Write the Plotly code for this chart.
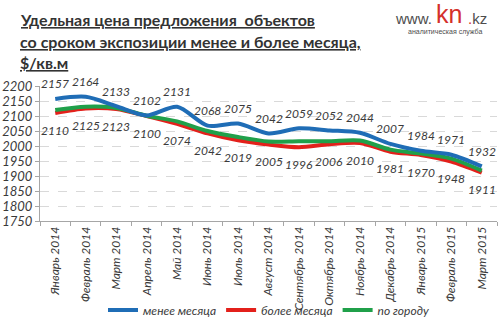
import plotly.graph_objects as go

months = ["Январь 2014", "Февраль 2014", "Март 2014", "Апрель 2014", "Май 2014",
          "Июнь 2014", "Июль 2014", "Август 2014", "Сентябрь 2014", "Октябрь 2014",
          "Ноябрь 2014", "Декабрь 2014", "Январь 2015", "Февраль 2015", "Март 2015"]
less_month = [2157, 2164, 2133, 2102, 2131, 2068, 2075, 2042, 2059, 2052, 2044, 2007, 1984, 1971, 1932]
more_month = [2110, 2125, 2123, 2100, 2074, 2042, 2019, 2005, 1996, 2006, 2010, 1981, 1970, 1948, 1911]
city = [2120, 2131, 2127, 2101, 2082, 2050, 2030, 2015, 2016, 2016, 2018, 1988, 1975, 1958, 1918]
y_ticks = [1750, 1800, 1850, 1900, 1950, 2000, 2050, 2100, 2150, 2200]

BLUE = "#1F6DB6"
RED = "#E3201B"
GREEN = "#20A04A"
FONT = "Lato"
TXT = "#3a3a3a"

W, H = 499, 327
l, r, t, b = 40, 2, 86, 100
pw, ph = W - l - r, H - t - b


def pp(px, py):
    return (px - l) / pw, (H - b - py) / ph


fig = go.Figure()
# draw order: red, green, blue (blue on top); legend order via legendrank
for name, vals, col, rank in [("более месяца", more_month, RED, 2),
                              ("по городу", city, GREEN, 3),
                              ("менее месяца", less_month, BLUE, 1)]:
    fig.add_trace(go.Scatter(x=months, y=vals, name=name, mode="lines", legendrank=rank,
                             line=dict(color=col, width=4, shape="spline", smoothing=0.8)))

annotations = []
lab_font = dict(family=FONT, size=12, color=TXT, style="italic")
for m, v in zip(months, less_month):
    annotations.append(dict(x=m, y=v, xref="x", yref="y", text=str(v), showarrow=False,
                            yshift=15, font=lab_font))
for m, v in zip(months, more_month):
    annotations.append(dict(x=m, y=v, xref="x", yref="y", text=str(v), showarrow=False,
                            yshift=-17, font=lab_font))

title_lines = ["Удельная цена предложения  объектов",
               "со сроком экспозиции менее и более месяца,",
               "$/кв.м"]
for i, tl in enumerate(title_lines):
    x, y = pp(18, 17 + 22 * i)
    annotations.append(dict(x=x, y=y, xref="paper", yref="paper",
                            text=f'<b><span style="text-decoration:underline">{tl}</span></b>',
                            showarrow=False, xanchor="left", yanchor="middle",
                            font=dict(family=FONT, size=16, color="#333333")))

# logo
x0, y0 = pp(434, 15)
annotations.append(dict(x=x0, y=y0, xref="paper", yref="paper", text="www.", showarrow=False,
                        xanchor="right", yanchor="middle",
                        font=dict(family="Liberation Sans", size=15, color="#4d4d4d")))
x1, y1 = pp(435, 11)
annotations.append(dict(x=x1, y=y1, xref="paper", yref="paper", text="kn", showarrow=False,
                        xanchor="left", yanchor="middle", borderpad=0,
                        font=dict(family="Liberation Sans", size=25, color="#D4302B")))
x2, y2 = pp(466, 15)
annotations.append(dict(x=x2, y=y2, xref="paper", yref="paper",
                        text='<span style="color:#D4302B">.</span>kz', showarrow=False,
                        xanchor="left", yanchor="middle",
                        font=dict(family="Liberation Sans", size=15, color="#4d4d4d")))
x3, y3 = pp(445, 30)
annotations.append(dict(x=x3, y=y3, xref="paper", yref="paper", text="аналитическая служба",
                        showarrow=False, xanchor="center", yanchor="middle", borderpad=0,
                        font=dict(family="Liberation Sans", size=7, color="#4d4d4d")))

ly = (H - b - 320) / ph
fig.update_layout(
    width=W, height=H,
    margin=dict(l=l, r=r, t=t, b=b),
    paper_bgcolor="white", plot_bgcolor="white",
    showlegend=True,
    legend=dict(orientation="h", x=0.5, xanchor="center", y=ly, yanchor="middle",
                font=dict(family=FONT, size=12, color=TXT, style="italic"),
                itemwidth=30, bgcolor="rgba(0,0,0,0)"),
    xaxis=dict(type="category", tickangle=-90, showgrid=False, showline=True,
               linecolor="#a6a6a6", ticks="outside", tickson="boundaries", ticklen=4,
               tickcolor="#a6a6a6", automargin=False,
               tickfont=dict(family=FONT, size=12, color=TXT, style="italic"),
               range=[-0.5, 14.5]),
    yaxis=dict(range=[1750, 2200], tickvals=y_ticks, showgrid=True, gridcolor="#d9d9d9",
               griddash="dash", showline=True, linecolor="#a6a6a6", ticks="outside",
               ticklen=4, tickcolor="#a6a6a6", zeroline=False, automargin=False,
               tickfont=dict(family=FONT, size=13, color=TXT, style="italic")),
    annotations=annotations,
)

fig.write_html("out.html")
